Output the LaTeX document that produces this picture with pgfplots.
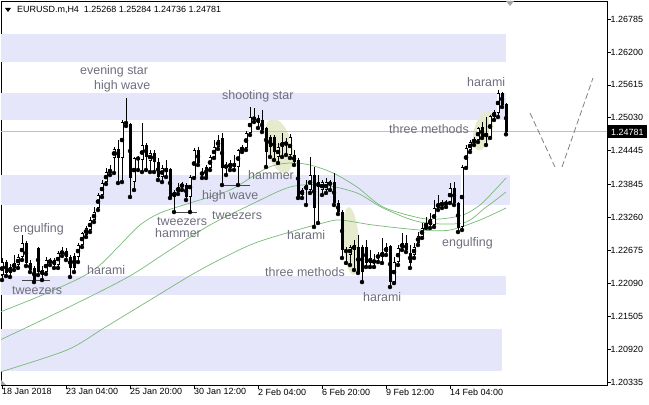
\documentclass[border=0pt]{standalone}
\usepackage{pgfplots}
\pgfplotsset{compat=1.18}
\usepackage{pgfplotstable}
\usepackage{fontspec}
\setmainfont{Liberation Sans}

\definecolor{band}{RGB}{230,230,250}
\definecolor{lbl}{RGB}{110,110,125}
\definecolor{hl}{RGB}{231,235,206}
\definecolor{ma}{RGB}{120,185,120}
\definecolor{silverline}{RGB}{192,192,192}
\definecolor{twz}{RGB}{70,70,70}

\pgfplotstableread{
i o h l c
0 1.22236 1.22539 1.22147 1.22467
1 1.22467 1.22503 1.22218 1.22272
2 1.22272 1.22432 1.22201 1.22379
3 1.22361 1.22592 1.22325 1.22450
4 1.22414 1.22610 1.22361 1.22557
5 1.22557 1.22947 1.22503 1.22805
6 1.22805 1.22840 1.22396 1.22450
7 1.22450 1.22503 1.22289 1.22325
8 1.22361 1.22396 1.22111 1.22147
9 1.22716 1.22734 1.22236 1.22289
10 1.22236 1.22396 1.22147 1.22325
11 1.22289 1.22557 1.22254 1.22503
12 1.22450 1.22539 1.22414 1.22503
13 1.22503 1.22539 1.22361 1.22414
14 1.22414 1.22663 1.22361 1.22628
15 1.22610 1.22734 1.22574 1.22663
16 1.22663 1.22716 1.22503 1.22557
17 1.22557 1.22592 1.22201 1.22361
18 1.22574 1.22628 1.22289 1.22361
19 1.22557 1.22805 1.22467 1.22769
20 1.22769 1.23000 1.22734 1.22983
21 1.22947 1.23107 1.22912 1.23072
22 1.23036 1.23267 1.23000 1.23214
23 1.23214 1.23445 1.23178 1.23355
24 1.23427 1.23694 1.23391 1.23658
25 1.23658 1.23924 1.23623 1.23871
26 1.23888 1.24138 1.23853 1.24066
27 1.24066 1.24191 1.24013 1.24102
28 1.24316 1.24511 1.24049 1.24476
29 1.24476 1.24635 1.23871 1.24316
30 1.24316 1.24991 1.23888 1.24955
31 1.24955 1.25382 1.24884 1.24920
32 1.24920 1.24938 1.23623 1.23960
33 1.23888 1.24334 1.23747 1.24316
34 1.24298 1.24351 1.24102 1.24316
35 1.24280 1.24938 1.24066 1.24546
36 1.24546 1.24582 1.24102 1.24334
37 1.24262 1.24458 1.24066 1.24405
38 1.24405 1.24458 1.24066 1.24244
39 1.24244 1.24316 1.23924 1.23978
40 1.23978 1.24191 1.23888 1.24138
41 1.24138 1.24280 1.23978 1.24066
42 1.24120 1.24138 1.23605 1.23623
43 1.23623 1.23747 1.23355 1.23711
44 1.23711 1.23871 1.23676 1.23800
45 1.23800 1.23888 1.23747 1.23853
46 1.23835 1.23871 1.23569 1.23623
47 1.23623 1.24013 1.23355 1.23978
48 1.23978 1.24494 1.23960 1.24458
49 1.24458 1.24511 1.24191 1.24227
50 1.24013 1.24138 1.23960 1.24066
51 1.24156 1.24191 1.23960 1.23978
52 1.24138 1.24369 1.24102 1.24334
53 1.24334 1.24635 1.24316 1.24511
54 1.24511 1.24724 1.24476 1.24635
55 1.24671 1.24760 1.23835 1.24138
56 1.24138 1.24244 1.24013 1.24191
57 1.24138 1.24280 1.24102 1.24227
58 1.24227 1.24369 1.24102 1.24156
59 1.24156 1.24476 1.23835 1.24458
60 1.24458 1.24546 1.24422 1.24494
61 1.24494 1.24795 1.24458 1.24760
62 1.24760 1.25222 1.24724 1.25044
63 1.25044 1.25204 1.24955 1.24991
64 1.25026 1.25079 1.24849 1.24938
65 1.24991 1.25168 1.24777 1.24813
66 1.24849 1.24867 1.24156 1.24422
67 1.24689 1.24724 1.24334 1.24511
68 1.24689 1.24724 1.24280 1.24422
69 1.24334 1.24582 1.24227 1.24511
70 1.24511 1.24760 1.24334 1.24599
71 1.24546 1.24671 1.24369 1.24599
72 1.24369 1.24742 1.24316 1.24689
73 1.24369 1.24458 1.24191 1.24244
74 1.24280 1.24316 1.23605 1.23623
75 1.23658 1.23782 1.23605 1.23747
76 1.23835 1.23924 1.23480 1.23747
77 1.23747 1.24334 1.23694 1.24013
78 1.24013 1.24156 1.23090 1.23427
79 1.23888 1.24013 1.23161 1.23800
80 1.23747 1.23924 1.23658 1.23888
81 1.23747 1.23960 1.23694 1.23888
82 1.23835 1.23924 1.23747 1.23888
83 1.23888 1.24049 1.23480 1.23516
84 1.23516 1.23569 1.23320 1.23355
85 1.23355 1.23391 1.22539 1.22681
86 1.22681 1.22734 1.22450 1.22645
87 1.22592 1.22769 1.22414 1.22734
88 1.22681 1.22858 1.22325 1.22769
89 1.22734 1.22947 1.22272 1.22289
90 1.22734 1.22769 1.22111 1.22289
91 1.22734 1.22858 1.22379 1.22450
92 1.22539 1.22681 1.22379 1.22450
93 1.22450 1.22610 1.22379 1.22503
94 1.22539 1.22645 1.22467 1.22592
95 1.22557 1.22894 1.22450 1.22645
96 1.22645 1.22805 1.22592 1.22734
97 1.22751 1.22769 1.22023 1.22111
98 1.22111 1.22557 1.22093 1.22467
99 1.22467 1.22769 1.22414 1.22716
100 1.22716 1.22983 1.22681 1.22805
101 1.22805 1.22947 1.22645 1.22681
102 1.22628 1.22769 1.22361 1.22450
103 1.22592 1.22805 1.22539 1.22734
104 1.22805 1.23000 1.22769 1.22929
105 1.22912 1.23161 1.22894 1.23072
106 1.23090 1.23267 1.23072 1.23161
107 1.23125 1.23338 1.23072 1.23232
108 1.23125 1.23569 1.23090 1.23427
109 1.23427 1.23658 1.23391 1.23516
110 1.23480 1.23569 1.23427 1.23516
111 1.23480 1.23569 1.23445 1.23533
112 1.23533 1.23871 1.23516 1.23782
113 1.23782 1.23888 1.23480 1.23516
114 1.23516 1.23533 1.23000 1.23072
115 1.23090 1.24191 1.23036 1.24156
116 1.24156 1.24546 1.24138 1.24494
117 1.24458 1.24635 1.24422 1.24599
118 1.24582 1.24689 1.24546 1.24653
119 1.24635 1.24867 1.24599 1.24849
120 1.24867 1.24955 1.24671 1.24689
121 1.24689 1.25044 1.24546 1.24760
122 1.24689 1.25079 1.24671 1.25061
123 1.25044 1.25168 1.24991 1.25132
124 1.25115 1.25524 1.25044 1.25471
125 1.25471 1.25489 1.25222 1.25257
126 1.25268 1.25284 1.24736 1.24781
}\candles

\pgfplotstableread{
i p
-0.5 1.21578
9.5 1.21863
19.5 1.22183
24.5 1.22414
29.5 1.22769
34.5 1.23125
39.5 1.23338
47 1.23516
57 1.23747
66.25 1.24138
72 1.24227
77 1.24191
82.75 1.24049
88.75 1.23800
95.25 1.23445
104.5 1.23249
109.5 1.23232
115.25 1.23302
119.5 1.23480
123.25 1.23747
126 1.23960
}\mafast

\pgfplotstableread{
i p
-0.5 1.21081
16.25 1.21650
31.5 1.22201
42 1.22681
52 1.23125
62 1.23480
72 1.23800
80.25 1.23835
88.75 1.23694
95.25 1.23427
104.5 1.23178
115.25 1.23161
120.75 1.23427
126 1.23711
}\mamid

\pgfplotstableread{
i p
-0.5 1.20512
16.25 1.20904
25.5 1.21295
37 1.21792
49.5 1.22325
62 1.22769
72 1.23000
80.25 1.23161
84.5 1.23214
92.75 1.23125
104.5 1.23036
112 1.23036
119.5 1.23214
126 1.23427
}\maslow

\begin{document}
\begin{tikzpicture}
\useasboundingbox (-1bp,-20bp) rectangle (648bp,385bp);
\begin{axis}[
  at={(0,0)}, anchor=south west,
  scale only axis, width=606bp, height=384bp,
  xmin=-0.25, xmax=151.25, ymin=1.20282, ymax=1.27105,
  axis line style={black, line width=0.8bp},
  tick align=outside, major tick length=3.5bp,
  tick style={black, line width=0.6bp},
  xtick pos=bottom, ytick pos=right, yticklabel pos=right,
  xtick={0,16,32,48,64,80,96,112},
  xticklabels={18 Jan 2018,23 Jan 04:00,25 Jan 20:00,30 Jan 12:00,2 Feb 04:00,6 Feb 20:00,9 Feb 12:00,14 Feb 04:00},
  xticklabel style={anchor=north west, inner sep=0pt, font=\fontsize{9}{10}\selectfont},
  ytick={1.20335,1.20920,1.21505,1.22090,1.22675,1.23260,1.23845,1.24445,1.25030,1.25615,1.26200,1.26785},
  yticklabels={1.20335,1.20920,1.21505,1.22090,1.22675,1.23260,1.23845,1.24445,1.25030,1.25615,1.26200,1.26785},
  yticklabel style={anchor=west, inner sep=0pt, font=\fontsize{9}{10}\selectfont},
]
% support / resistance zones
\fill[band] (axis cs:-0.25,1.26519) rectangle (axis cs:126,1.26021);
\fill[band] (axis cs:-0.25,1.25471) rectangle (axis cs:126,1.24991);
\fill[band] (axis cs:-0.25,1.24013) rectangle (axis cs:127,1.23480);
\fill[band] (axis cs:-0.25,1.22218) rectangle (axis cs:126,1.21881);
\fill[band] (axis cs:-0.25,1.21277) rectangle (axis cs:125,1.20530);
% pattern highlights
\fill[hl, rotate around={15:(axis cs:69.25,1.24529)}] (axis cs:69.25,1.24529) ellipse [x radius=13bp, y radius=28bp];
\fill[hl, rotate around={4:(axis cs:87.25,1.22840)}] (axis cs:87.25,1.22840) ellipse [x radius=8bp, y radius=34bp];
\fill[hl, rotate around={-15:(axis cs:120.25,1.24795)}] (axis cs:120.25,1.24795) ellipse [x radius=9bp, y radius=20bp];
% current price line
\addplot[silverline, line width=0.8bp, forget plot] coordinates {(-0.25,1.24781) (151.25,1.24781)};
% moving averages
\addplot[ma, line width=0.7bp, smooth, forget plot] table[x=i,y=p] {\mafast};
\addplot[ma, line width=0.7bp, smooth, forget plot] table[x=i,y=p] {\mamid};
\addplot[ma, line width=0.7bp, smooth, forget plot] table[x=i,y=p] {\maslow};
% tweezers lines
\addplot[twz, line width=0.9bp, forget plot] coordinates {(5,1.22147) (12,1.22147)};
\addplot[twz, line width=0.9bp, forget plot] coordinates {(42.5,1.23355) (48.75,1.23355)};
\addplot[twz, line width=0.9bp, forget plot] coordinates {(55.25,1.23835) (62,1.23835)};
% wicks
\addplot[only marks, mark=none, forget plot,
  error bars/.cd, y dir=plus, y explicit, error mark=none,
  error bar style={black, line width=0.8bp}]
  table[x=i, y=l, y error expr=\thisrow{h}-\thisrow{l}] {\candles};
% bodies
\addplot[only marks, mark=none, forget plot,
  error bars/.cd, y dir=both, y explicit, error mark=none,
  error bar style={black, line width=3bp}]
  table[x=i, y expr={(\thisrow{o}+\thisrow{c})/2}, y error expr={abs(\thisrow{c}-\thisrow{o})/2+0.00005}] {\candles};
% bullish body interior
\addplot[only marks, mark=none, forget plot,
  restrict expr to domain={\thisrow{c}-\thisrow{o}}{0.00025:1},
  error bars/.cd, y dir=both, y explicit, error mark=none,
  error bar style={white, line width=1.4bp}]
  table[x=i, y expr={(\thisrow{o}+\thisrow{c})/2}, y error expr={(\thisrow{c}-\thisrow{o})/2-0.00013}] {\candles};
\end{axis}

\begin{scope}[x=1bp, y=-1bp, shift={(-1bp,385bp)}]
  % title
  \fill[black] (5,8) -- (11,8) -- (8,12) -- cycle;
  \node[anchor=base west, inner sep=0pt, font=\fontsize{9}{10}\selectfont] at (17,13) {EURUSD.m,H4\hspace{5bp}1.25268 1.25284 1.24736 1.24781};
  % chart shift marker
  \fill[black!35] (506,1) -- (514,1) -- (510,6) -- cycle;
  \fill[black!35] (1,380) -- (1,385) -- (6,385) -- cycle;
  % projected zigzag
  \draw[black!50, line width=0.8bp, dash pattern=on 6bp off 3bp] (530,113) -- (555,167);
  \draw[black!50, line width=0.8bp, dash pattern=on 6bp off 3bp] (562,167) -- (593,78);
  % price tag
  \node[anchor=west, fill=black, text=white, inner xsep=3bp, inner ysep=0pt, minimum height=13bp, font=\fontsize{9}{10}\selectfont] at (608,132) {1.24781};
  % pattern labels
  \begin{scope}[every node/.style={anchor=base west, inner sep=0pt, text=lbl, font=\fontsize{12.5}{14}\selectfont}]
    \node at (80,75) {evening star};
    \node at (94,90) {high wave};
    \node at (222,100) {shooting star};
    \node at (467,87) {harami};
    \node at (389,134) {three methods};
    \node at (248,180) {hammer};
    \node at (202,200) {high wave};
    \node at (212,220) {tweezers};
    \node at (157,226) {tweezers};
    \node at (155,238) {hammer};
    \node at (13,233) {engulfing};
    \node at (87,275) {harami};
    \node at (12,295) {tweezers};
    \node at (287,240) {harami};
    \node at (265,277) {three methods};
    \node at (363,302) {harami};
    \node at (442,247) {engulfing};
  \end{scope}
\end{scope}
\end{tikzpicture}
\end{document}
